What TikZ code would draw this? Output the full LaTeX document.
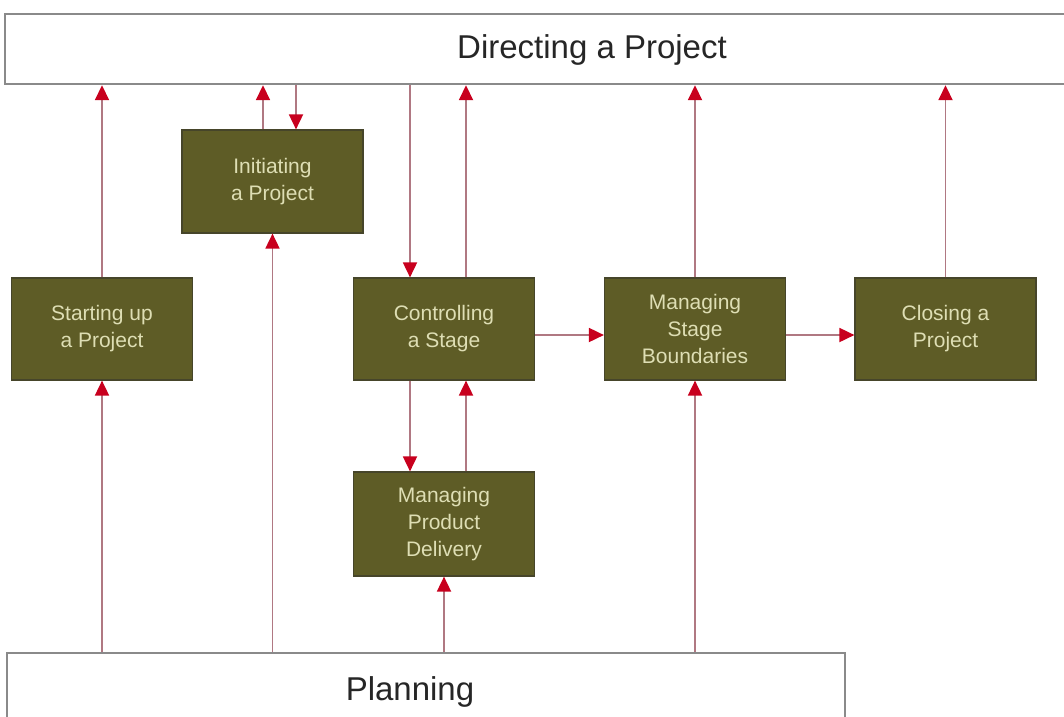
\documentclass[tikz,border=0pt]{standalone}
\usepackage{fontspec}
\setmainfont{Liberation Sans}
\usepackage{xcolor}
\usepackage{tikz}
\usetikzlibrary{arrows.meta, positioning, calc}
\definecolor{stagefill}{HTML}{5E5C26}
\definecolor{stageedge}{HTML}{46452A}
\definecolor{stagetext}{HTML}{DEDEB4}
\definecolor{laneedge}{HTML}{8A8A8A}
\definecolor{flowline}{HTML}{B07882}
\definecolor{flowtip}{HTML}{C8001E}

\begin{document}
\begin{tikzpicture}[
    x=1pt, y=-1pt,
    stagebox/.style={rectangle, draw=stageedge, fill=stagefill, line width=1.2pt, text=stagetext, align=center, minimum width=181pt, minimum height=102pt, inner sep=0pt, font=\fontsize{21}{27}\selectfont},
    lanebox/.style={rectangle, draw=laneedge, fill=white, line width=2.4pt, inner sep=0pt},
    lanetext/.style={font=\fontsize{33}{38}\selectfont, text=black!85, inner sep=0pt},
    flow/.style={line width=1.8pt, draw=flowline, -{Triangle[width=14pt, length=15pt, color=flowtip]}}
]
    \clip (0,0) rectangle (1064,716);
    \fill[white] (0,0) rectangle (1064,716);

    % Nodes
    \node[lanebox, minimum width=1174pt, minimum height=70pt] (directing) at (592,49) {};
    \node[lanetext] (directinglabel) at (592,50) {Directing a Project};
    \node[lanebox, minimum width=838pt, minimum height=78pt] (planning) at (426,692) {};
    \node[lanetext] (planninglabel) at (410,692) {Planning};

    \node[stagebox] (starting) at (102,329) {Starting up\\a Project};
    \node[stagebox, minimum height=103pt] (initiating) at (272.5,181.5) {Initiating\\a Project};
    \node[stagebox] (controlling) at (444,329) {Controlling\\a Stage};
    \node[stagebox] (boundaries) at (695,329) {Managing\\Stage\\Boundaries};
    \node[stagebox] (closing) at (945.5,329) {Closing a\\Project};
    \node[stagebox, minimum height=104pt] (delivery) at (444,524) {Managing\\Product\\Delivery};

    % Connections
    \draw[flow] (starting.north) -- (starting.north |- directing.south);
    \draw[flow] (starting.south |- planning.north) -- (starting.south);

    \draw[flow] ([xshift=-9.5pt]initiating.north) -- ([xshift=-9.5pt]initiating.north |- directing.south);
    \draw[flow] ([xshift=23.5pt]initiating.north |- directing.south) -- ([xshift=23.5pt]initiating.north);
    \draw[flow] (initiating.south |- planning.north) -- (initiating.south);

    \draw[flow] ([xshift=-34pt]controlling.north |- directing.south) -- ([xshift=-34pt]controlling.north);
    \draw[flow] ([xshift=22pt]controlling.north) -- ([xshift=22pt]controlling.north |- directing.south);
    \draw[flow] ([xshift=-34pt]controlling.south) -- ([xshift=-34pt]delivery.north);
    \draw[flow] ([xshift=22pt]delivery.north) -- ([xshift=22pt]controlling.south);
    \draw[flow] (delivery.south |- planning.north) -- (delivery.south);

    \draw[flow] ([yshift=-6pt]controlling.east) -- ([yshift=-6pt]boundaries.west);
    \draw[flow] ([yshift=-6pt]boundaries.east) -- ([yshift=-6pt]closing.west);

    \draw[flow] (boundaries.north) -- (boundaries.north |- directing.south);
    \draw[flow] (boundaries.south |- planning.north) -- (boundaries.south);

    \draw[flow] (closing.north) -- (closing.north |- directing.south);
\end{tikzpicture}
\end{document}
